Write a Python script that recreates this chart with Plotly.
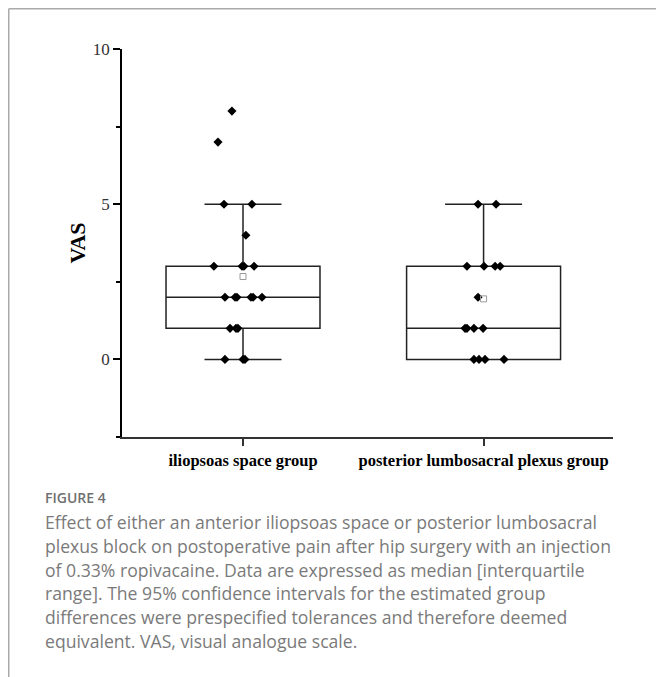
import plotly.graph_objects as go

# ---------------- data ----------------
groups = ["iliopsoas space group", "posterior lumbosacral plexus group"]

# box statistics
q1_vals = [1, 0]
median_vals = [2, 1]
q3_vals = [3, 3]
lower_whisker = [0, 0]
upper_whisker = [5, 5]
mean_vals = [2.67, 1.95]

# individual VAS observations per group
vas_g1 = [8, 7, 5, 5, 4, 3, 3, 3, 3, 2, 2, 2, 2, 2, 2, 1, 1, 1, 0, 0, 0]
vas_g2 = [5, 5, 3, 3, 3, 3, 2, 1, 1, 1, 1, 0, 0, 0, 0]

# horizontal scatter (beeswarm) offsets, in category units
jit_g1 = [-0.046, -0.104, -0.079, 0.037, 0.012, -0.121, -0.004, 0.004, 0.046,
          -0.075, -0.033, -0.025, 0.033, 0.042, 0.079, -0.054, -0.029, -0.021,
          -0.075, 0.0, 0.008]
jit_g2 = [-0.023, 0.052, -0.069, 0.002, 0.048, 0.069, -0.023, -0.077, -0.069,
          -0.040, -0.002, -0.040, -0.019, 0.006, 0.085]

y_ticks = [0, 5, 10]

caption_title = "FIGURE 4"
caption_lines = [
    "Effect of either an anterior iliopsoas space or posterior lumbosacral",
    "plexus block on postoperative pain after hip surgery with an injection",
    "of 0.33% ropivacaine. Data are expressed as median [interquartile",
    "range]. The 95% confidence intervals for the estimated group",
    "differences were prespecified tolerances and therefore deemed",
    "equivalent. VAS, visual analogue scale.",
]

# ---------------- layout geometry ----------------
W, H = 664, 677
OFF = 8  # page body margin offset
# target page pixels: plot area x 122..613, y 49..437
ML = 122 - OFF
MT = 49 - OFF
MR = W - (613 - OFF)
MB = H - (437 - OFF)
PW = W - ML - MR
PH = H - MT - MB


def px_x(px):
    return (px - OFF - ML) / PW


def px_y(py):
    return (H - MB - (py - OFF)) / PH


fig = go.Figure()

positions = [0, 1]
for i in range(2):
    fig.add_trace(go.Box(
        x=[positions[i]],
        q1=[q1_vals[i]], median=[median_vals[i]], q3=[q3_vals[i]],
        lowerfence=[lower_whisker[i]], upperfence=[upper_whisker[i]],
        width=0.64, whiskerwidth=0.5,
        boxpoints=False,
        fillcolor="rgba(255,255,255,0)",
        line=dict(color="#222222", width=1.5),
        showlegend=False, hoverinfo="skip",
    ))

for pos, vals, jit in [(0, vas_g1, jit_g1), (1, vas_g2, jit_g2)]:
    fig.add_trace(go.Scatter(
        x=[pos + j for j in jit], y=vals, mode="markers",
        marker=dict(symbol="diamond", size=7, color="black"),
        showlegend=False, hoverinfo="skip",
    ))

fig.add_trace(go.Scatter(
    x=positions, y=mean_vals, mode="markers",
    marker=dict(symbol="square-open", size=6, color="#999999",
                line=dict(width=1)),
    showlegend=False, hoverinfo="skip",
))

fig.update_layout(
    width=W, height=H,
    margin=dict(l=ML, r=MR, t=MT, b=MB, pad=0),
    paper_bgcolor="white", plot_bgcolor="white",
    xaxis=dict(
        range=[-0.503, 1.538],
        tickmode="array", tickvals=positions, ticktext=groups,
        showgrid=False, zeroline=False,
        showline=True, linecolor="#333333", linewidth=2,
        ticks="outside", ticklen=7, tickwidth=1.5, tickcolor="#333333",
        tickfont=dict(family="Liberation Serif", size=16.5, color="black",
                      weight="bold"),
    ),
    yaxis=dict(
        range=[-2.5, 10],
        tickmode="array", tickvals=y_ticks,
        showgrid=False, zeroline=False,
        showline=True, linecolor="black", linewidth=1.7,
        ticks="outside", ticklen=7, tickwidth=1.5, tickcolor="black",
        minor=dict(dtick=2.5, tick0=0, ticks="outside", ticklen=4,
                   tickwidth=1.5, tickcolor="black", showgrid=False),
        tickfont=dict(family="Liberation Serif", size=17, color="#333333"),
        title=dict(text="VAS", standoff=1,
                   font=dict(family="Liberation Serif", size=22,
                             color="black", weight="bold")),
    ),
)

annotations = [dict(
    text=caption_title, xref="paper", yref="paper",
    x=px_x(43), y=px_y(498), xanchor="left", yanchor="middle",
    showarrow=False,
    font=dict(family="Open Sans", size=14, color="#707070", weight=600),
)]
for k, line in enumerate(caption_lines):
    annotations.append(dict(
        text=line, xref="paper", yref="paper",
        x=px_x(43), y=px_y(522 + 23.8 * k), xanchor="left", yanchor="middle",
        showarrow=False,
        font=dict(family="Open Sans", size=17.6, color="#7a7a7a"),
    ))
fig.update_layout(annotations=annotations)

# page frame (left and top border lines)
fig.add_shape(type="line", xref="paper", yref="paper",
              x0=px_x(8.75), x1=px_x(8.75), y0=px_y(8.75), y1=px_y(H + 10),
              line=dict(color="#aaaaaa", width=1.5))
fig.add_shape(type="line", xref="paper", yref="paper",
              x0=px_x(8.75), x1=px_x(W + 10), y0=px_y(8.75), y1=px_y(8.75),
              line=dict(color="#aaaaaa", width=1.5))

fig.write_html("out.html")
